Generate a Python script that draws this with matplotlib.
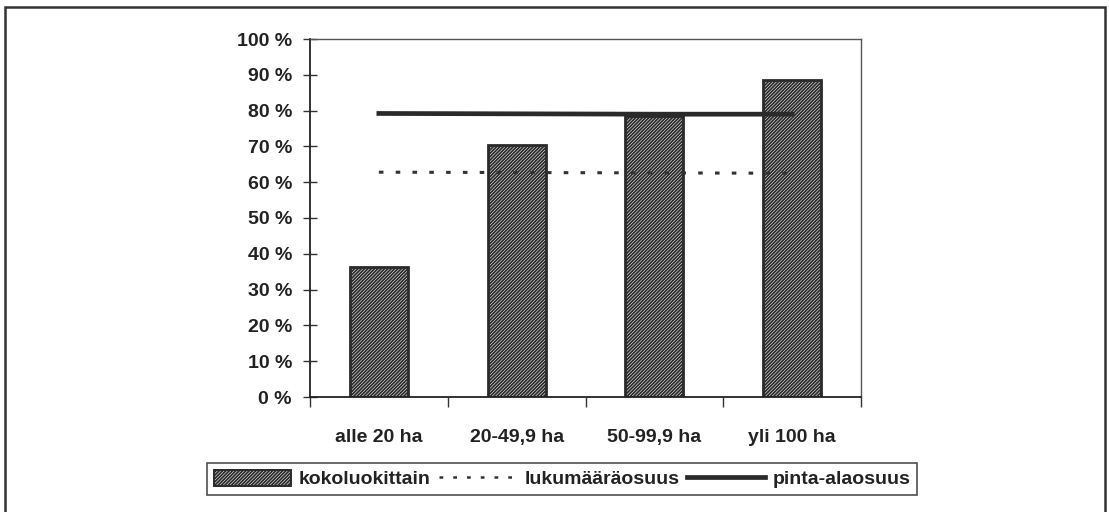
import numpy as np
import matplotlib
matplotlib.use("Agg")
import matplotlib.pyplot as plt
from matplotlib.patches import Rectangle, Patch
from matplotlib.lines import Line2D

plt.rcParams['font.family'] = ['Liberation Sans', 'DejaVu Sans']
plt.rcParams['font.weight'] = 'bold'
plt.rcParams['hatch.linewidth'] = 1.3
plt.rcParams['hatch.color'] = '#2a2a2a'

# data
categories = ['alle 20 ha', '20-49,9 ha', '50-99,9 ha', 'yli 100 ha']
kokoluokittain = [36.3, 70.5, 78.5, 88.6]
lukumaaraosuus = [62.8, 62.7, 62.6, 62.5]
pinta_alaosuus = [79.2, 79.1, 79.0, 79.0]
yticks = list(range(0, 101, 10))

W, H = 1109, 512
fig = plt.figure(figsize=(W / 100, H / 100), dpi=100)
ax = fig.add_axes([310 / W, 1 - 397 / H, 551 / W, 358 / H])

x = np.arange(len(categories))
ax.bar(x, kokoluokittain, width=0.42, facecolor='white', edgecolor='#2a2a2a',
       linewidth=2.0, hatch='//////////', zorder=2)
ax.plot(x, lukumaaraosuus, color='#333333', linestyle=(0, (1.5, 4)), linewidth=2.2, zorder=3)
ax.plot(x, pinta_alaosuus, color='#2a2a2a', linewidth=3.4, zorder=3)

ax.set_xlim(-0.5, len(categories) - 0.5)
ax.set_ylim(0, 100)
ax.set_yticks(yticks)
ax.set_yticklabels(['%d %%' % v for v in yticks], fontsize=14, color='#222222')
ax.set_xticks(x)
ax.set_xticklabels(categories, fontsize=14, color='#222222')
ax.tick_params(axis='x', length=0, pad=23)
ax.set_xticks(np.arange(-0.5, len(categories)), minor=True)
ax.tick_params(axis='x', which='minor', length=7, width=1, direction='out', color='#333333')
ax.tick_params(axis='y', length=10, width=1, direction='inout', pad=8, color='#333333')

for s in ['left', 'bottom']:
    ax.spines[s].set_color('#222222')
    ax.spines[s].set_linewidth(1.3)
for s in ['top', 'right']:
    ax.spines[s].set_color('#555555')
    ax.spines[s].set_linewidth(1.0)

# legend
handles = [Patch(facecolor='white', edgecolor='#2a2a2a', hatch='//////////', linewidth=1.4),
           Line2D([], [], color='#333333', linestyle=(0, (1.5, 4)), linewidth=1.8),
           Line2D([], [], color='#2a2a2a', linewidth=3.4)]
labels = ['kokoluokittain', 'lukumääräosuus', 'pinta-alaosuus']
leg = fig.legend(handles, labels, ncol=3, loc='center', bbox_to_anchor=(562 / W, 1 - 479 / H),
                 fontsize=14, frameon=True, fancybox=False, handlelength=4.0, handleheight=0.9,
                 handletextpad=0.4, columnspacing=0.4, borderpad=0.35, edgecolor='#222222')
leg.get_frame().set_linewidth(1.2)
for t in leg.get_texts():
    t.set_color('#222222')

# outer frame
fig.patches.append(Rectangle((5 / W, -0.05), 1100 / W, 1.05 - 7 / H, transform=fig.transFigure,
                             fill=False, edgecolor='#333333', linewidth=1.8))

fig.savefig('out.png', dpi=100)
